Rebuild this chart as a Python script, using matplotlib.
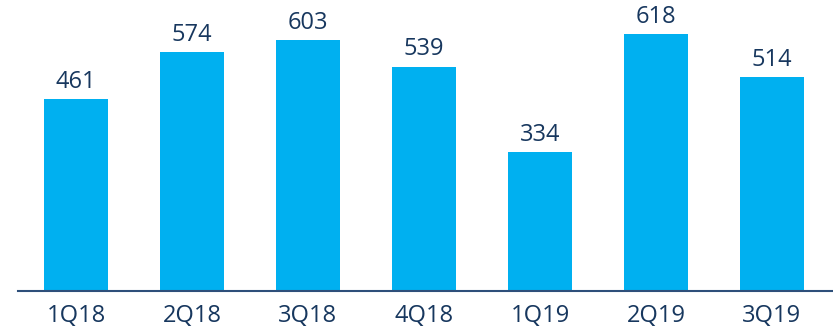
import matplotlib
matplotlib.use('Agg')
import matplotlib.pyplot as plt

QUARTERS = ['1Q18', '2Q18', '3Q18', '4Q18', '1Q19', '2Q19', '3Q19']
VALUES = [461, 574, 603, 539, 334, 618, 514]

BAR_COLOR = '#00B0F0'
TEXT_COLOR = '#17375E'
AXIS_COLOR = '#2E4F7A'

plt.rcParams['font.family'] = ['Open Sans', 'DejaVu Sans']

fig = plt.figure(figsize=(8.33, 3.31), dpi=100)
ax = fig.add_axes([18/833, 40/331, 815/833, 291/331])

x = range(len(QUARTERS))
bars = ax.bar(x, VALUES, width=0.55, color=BAR_COLOR)

for b, v in zip(bars, VALUES):
    ax.annotate(str(v), (b.get_x() + b.get_width()/2, v), xytext=(0, 4),
                textcoords='offset points', ha='center', va='bottom',
                fontsize=17, color=TEXT_COLOR)

ax.set_xlim(-0.5, 6.526)
ax.set_ylim(0, 700)
ax.set_xticks(list(x))
ax.set_xticklabels(QUARTERS, fontsize=17, color=TEXT_COLOR)
ax.tick_params(axis='x', length=0, pad=9)
ax.set_yticks([])
for s in ['top', 'right', 'left']:
    ax.spines[s].set_visible(False)
ax.spines['bottom'].set_color(AXIS_COLOR)
ax.spines['bottom'].set_linewidth(1.5)

fig.savefig('out.png', dpi=100)
